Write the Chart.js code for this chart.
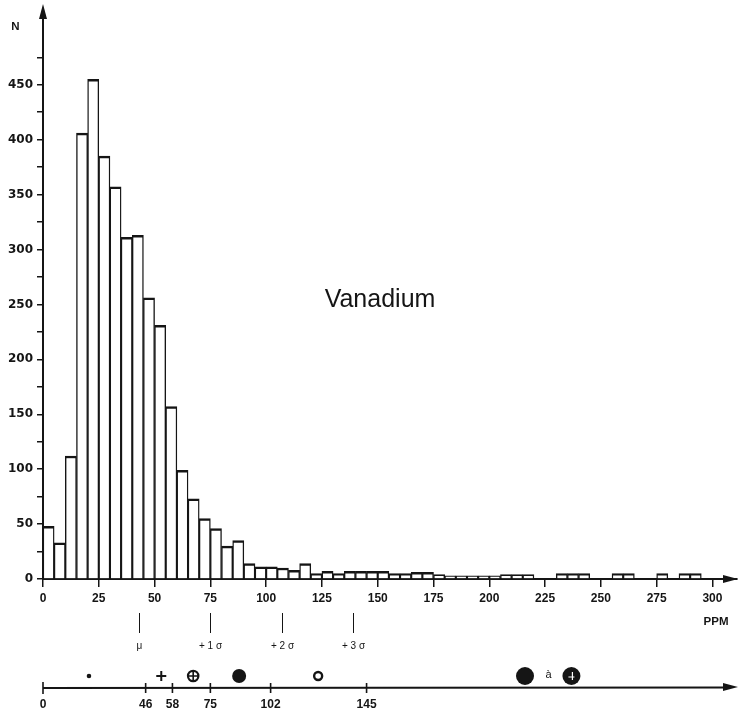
<!DOCTYPE html>
<html>
<head>
<meta charset="utf-8">
<script src="https://cdn.jsdelivr.net/npm/chart.js@4/dist/chart.umd.min.js"></script>
<style>
  html, body { margin: 0; padding: 0; background: #fff; }
  #wrap { width: 738px; height: 715px; position: relative; }
</style>
</head>
<body>
<div id="wrap"><canvas id="plot" width="738" height="715"></canvas></div>
<script>
'use strict';

// 5 ppm bins, start of each bin
const binWidth = 5;
const binStarts = [0, 5, 10, 15, 20, 25, 30, 35, 40, 45, 50, 55, 60, 65, 70, 75, 80, 85, 90, 95,
    100, 105, 110, 115, 120, 125, 130, 135, 140, 145, 150, 155, 160, 165, 170, 175, 180, 185, 190, 195,
    200, 205, 210, 215, 220, 225, 230, 235, 240, 245, 250, 255, 260, 265, 270, 275, 280, 285, 290, 295];
const counts = [48, 33, 112, 406, 455, 385, 357, 311, 313, 256, 231, 157, 99, 73, 55, 46, 30, 35, 14, 11,
    11, 10, 8, 14, 5, 7, 5, 7, 7, 7, 7, 5, 5, 6, 6, 4, 3, 3, 3, 3,
    3, 4, 4, 4, 0, 0, 5, 5, 5, 0, 0, 5, 5, 0, 0, 5, 0, 5, 5, 0];

const xTickValues = [0, 25, 50, 75, 100, 125, 150, 175, 200, 225, 250, 275, 300];
const yTickValues = [0, 25, 50, 75, 100, 125, 150, 175, 200, 225, 250, 275, 300, 325, 350, 375, 400, 425, 450, 475];
const yLabelValues = [0, 50, 100, 150, 200, 250, 300, 350, 400, 450];

// mean and sigma marks under the axis
const sigmaValues = [43, 75, 107, 139];
const sigmaLabels = ['μ', '+ 1 σ', '+ 2 σ', '+ 3 σ'];

// classification line at the bottom
const classTicks = [0, 46, 58, 75, 102, 145];
const symbolValues = [20.6, 53, 67.3, 87.9, 123.3, 216, 226.5, 236.8];
const symbolKinds = ['dot', 'plus', 'circlePlus', 'disc', 'ring', 'bigDisc', 'à', 'bigDiscMark'];

const INK = '#151515';
const FONT = '"Liberation Sans", Arial, sans-serif';

function drawSymbol(ctx, kind, x, y) {
    ctx.fillStyle = INK;
    ctx.strokeStyle = INK;
    ctx.beginPath();
    switch (kind) {
        case 'dot':
            ctx.arc(x, y, 2.3, 0, Math.PI * 2);
            ctx.fill();
            break;
        case 'plus':
            ctx.lineWidth = 2;
            ctx.moveTo(x - 5, y); ctx.lineTo(x + 5, y);
            ctx.moveTo(x, y - 5); ctx.lineTo(x, y + 5);
            ctx.stroke();
            break;
        case 'circlePlus':
            ctx.lineWidth = 2.2;
            ctx.arc(x, y, 5.2, 0, Math.PI * 2);
            ctx.stroke();
            ctx.beginPath();
            ctx.lineWidth = 1.6;
            ctx.moveTo(x - 5, y); ctx.lineTo(x + 5, y);
            ctx.moveTo(x, y - 5); ctx.lineTo(x, y + 5);
            ctx.stroke();
            break;
        case 'disc':
            ctx.arc(x, y, 7, 0, Math.PI * 2);
            ctx.fill();
            break;
        case 'ring':
            ctx.lineWidth = 2.4;
            ctx.arc(x, y, 4, 0, Math.PI * 2);
            ctx.stroke();
            break;
        case 'bigDisc':
            ctx.arc(x, y, 9, 0, Math.PI * 2);
            ctx.fill();
            break;
        case 'bigDiscMark':
            ctx.arc(x, y, 9, 0, Math.PI * 2);
            ctx.fill();
            ctx.beginPath();
            ctx.strokeStyle = '#fff';
            ctx.lineWidth = 1.2;
            ctx.moveTo(x - 3, y + 1); ctx.lineTo(x + 3, y + 1);
            ctx.moveTo(x + 1, y - 4); ctx.lineTo(x + 1, y + 4);
            ctx.stroke();
            break;
        default:
            ctx.font = '11px ' + FONT;
            ctx.textAlign = 'center';
            ctx.textBaseline = 'middle';
            ctx.fillText(kind, x, y - 1);
    }
}

const annotationPlugin = {
    id: 'annotations',
    afterDraw(chart) {
        const ctx = chart.ctx;
        const xs = chart.scales.x;
        const area = chart.chartArea;
        ctx.save();
        ctx.fillStyle = INK;
        ctx.strokeStyle = INK;

        // axis arrow heads
        ctx.beginPath();
        ctx.moveTo(area.left, 4);
        ctx.lineTo(area.left - 4, 19);
        ctx.lineTo(area.left + 4, 19);
        ctx.closePath();
        ctx.fill();
        ctx.beginPath();
        ctx.moveTo(738, area.bottom);
        ctx.lineTo(723, area.bottom - 4);
        ctx.lineTo(723, area.bottom + 4);
        ctx.closePath();
        ctx.fill();

        // axis titles
        ctx.font = 'bold 11.5px ' + FONT;
        ctx.textAlign = 'center';
        ctx.textBaseline = 'alphabetic';
        ctx.fillText('N', 15.5, 30);
        ctx.fillText('PPM', 716, 625);

        ctx.font = '25px ' + FONT;
        ctx.fillText('Vanadium', 380, 307);

        // mean / sigma marks
        ctx.lineWidth = 1;
        ctx.font = '10px ' + FONT;
        ctx.textBaseline = 'middle';
        sigmaValues.forEach((v, i) => {
            const px = Math.round(xs.getPixelForValue(v)) + 0.5;
            ctx.beginPath();
            ctx.moveTo(px, 613);
            ctx.lineTo(px, 633);
            ctx.stroke();
            ctx.fillText(sigmaLabels[i], px, 646);
        });

        // classification axis
        const lineY = 688;
        ctx.lineWidth = 2;
        ctx.beginPath();
        ctx.moveTo(xs.getPixelForValue(0), lineY);
        ctx.lineTo(726, lineY - 0.5);
        ctx.stroke();
        ctx.beginPath();
        ctx.moveTo(738, lineY - 1);
        ctx.lineTo(723, lineY - 5);
        ctx.lineTo(723, lineY + 3);
        ctx.closePath();
        ctx.fill();

        ctx.font = 'bold 12px ' + FONT;
        ctx.textBaseline = 'middle';
        classTicks.forEach((v, i) => {
            const px = xs.getPixelForValue(v);
            const h = i === 0 ? 6 : 5;
            ctx.lineWidth = 1.6;
            ctx.beginPath();
            ctx.moveTo(px, lineY - h);
            ctx.lineTo(px, lineY + h);
            ctx.stroke();
            ctx.fillText(String(v), px, 705);
        });

        symbolValues.forEach((v, i) => {
            drawSymbol(ctx, symbolKinds[i], xs.getPixelForValue(v), 676);
        });

        ctx.restore();
    }
};

new Chart(document.getElementById('plot'), {
    type: 'bar',
    data: {
        datasets: [{
            data: binStarts.map((s, i) => ({ x: s + binWidth / 2, y: counts[i] })),
            backgroundColor: '#fff',
            borderColor: INK,
            borderWidth: { top: 2.5, left: 1.4, right: 1.4, bottom: 0 },
            borderSkipped: false,
            categoryPercentage: 1,
            barPercentage: 1
        }]
    },
    options: {
        responsive: false,
        animation: false,
        devicePixelRatio: 1,
        layout: { padding: { top: 7, right: 1, left: 0, bottom: 0 } },
        plugins: {
            legend: { display: false },
            tooltip: { enabled: false }
        },
        scales: {
            x: {
                type: 'linear',
                min: 0,
                max: 311,
                offset: false,
                z: 1,
                afterBuildTicks: s => { s.ticks = xTickValues.map(v => ({ value: v })); },
                afterFit: s => { s.height = 136; },
                ticks: {
                    autoSkip: false,
                    maxRotation: 0,
                    padding: 4,
                    color: INK,
                    font: { family: FONT, size: 12, weight: 'bold' }
                },
                grid: { offset: false, drawOnChartArea: false, drawTicks: true, tickLength: 8, color: INK, lineWidth: 1.5 },
                border: { display: true, color: INK, width: 2 }
            },
            y: {
                type: 'linear',
                min: 0,
                max: 517,
                z: 1,
                afterBuildTicks: s => { s.ticks = yTickValues.map(v => ({ value: v })); },
                afterFit: s => { s.width = 43; },
                ticks: {
                    autoSkip: false,
                    padding: 4,
                    color: INK,
                    font: { family: '"DejaVu Sans", sans-serif', size: 12, weight: 'bold' },
                    callback: v => yLabelValues.includes(v) ? String(v) : ''
                },
                grid: { drawOnChartArea: false, drawTicks: true, tickLength: 6, color: INK, lineWidth: 1.5 },
                border: { display: true, color: INK, width: 2 }
            }
        }
    },
    plugins: [annotationPlugin]
});
</script>
</body>
</html>
